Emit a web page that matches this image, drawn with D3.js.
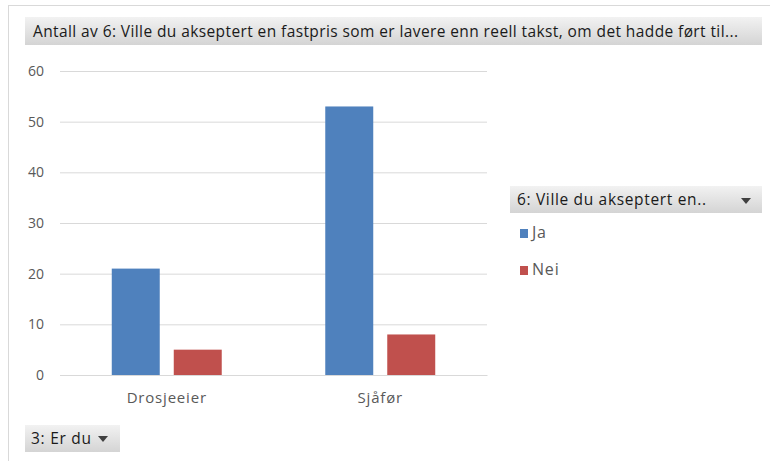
<!DOCTYPE html>
<html>
<head>
<meta charset="utf-8">
<script src="https://cdn.jsdelivr.net/npm/d3@7"></script>
<style>
  body { margin: 0; background: #fff; }
  svg { display: block; font-family: "Open Sans", "DejaVu Sans", sans-serif; }
</style>
</head>
<body>
<svg id="chart"></svg>
<script>
const categories = ['Drosjeeier', 'Sjåfør'];
const seriesNames = ['Ja', 'Nei'];
const jaValues = [21, 53];
const neiValues = [5, 8];
const yTicks = [0, 10, 20, 30, 40, 50, 60];
const titleText = 'Antall av 6: Ville  du akseptert en fastpris som er lavere enn reell takst, om det hadde ført til...';
const legendTitle = '6: Ville  du akseptert en..';
const axisButton = '3: Er du';

const width = 770;
const height = 461;
const colors = d3.scaleOrdinal().domain(seriesNames).range(['#4f81bd', '#c0504d']);

const svg = d3.select('#chart')
    .attr('width', width)
    .attr('height', height)
    .attr('viewBox', [0, 0, width, height]);

const defs = svg.append('defs');
const grad = defs.append('linearGradient')
    .attr('id', 'btn')
    .attr('x1', 0).attr('y1', 0).attr('x2', 0).attr('y2', 1);
grad.append('stop').attr('offset', '0%').attr('stop-color', '#f2f2f2');
grad.append('stop').attr('offset', '100%').attr('stop-color', '#d4d4d4');

// outer frame
svg.append('rect')
    .attr('x', 8.5).attr('y', 5.5)
    .attr('width', 780).attr('height', 470)
    .attr('fill', '#fff')
    .attr('stroke', '#d9d9d9');

// title button
svg.append('rect')
    .attr('x', 25).attr('y', 17)
    .attr('width', 737).attr('height', 28)
    .attr('fill', 'url(#btn)');
svg.append('text')
    .attr('x', 33).attr('y', 37)
    .attr('font-size', 15.5)
    .attr('fill', '#1a1a1a')
    .attr('textLength', 705)
    .text(titleText);

const plotLeft = 60;
const plotRight = 487;
const plotTop = 71;
const plotBottom = 375;

const x0 = d3.scaleBand().domain(categories).range([plotLeft, plotRight]).paddingInner(0).paddingOuter(0);
const x1 = d3.scaleBand().domain(seriesNames).range([0, x0.bandwidth()]).paddingInner(0.226).paddingOuter(0.835);
const y = d3.scaleLinear().domain([0, 60]).range([plotBottom, plotTop]);

// gridlines
const yAxis = d3.axisLeft(y).tickValues(yTicks).tickSize(-(plotRight - plotLeft)).tickPadding(16);
const gy = svg.append('g')
    .attr('transform', `translate(${plotLeft},0)`)
    .call(yAxis);
gy.select('.domain').remove();
gy.selectAll('.tick line').attr('stroke', '#d9d9d9').attr('stroke-width', 1);
gy.selectAll('.tick text')
    .attr('fill', '#595959')
    .attr('font-size', 14)
    .attr('font-family', '"Open Sans", sans-serif');

const rows = categories.map((c, i) => ({category: c, values: [
  {name: 'Ja', value: jaValues[i]},
  {name: 'Nei', value: neiValues[i]},
]}));

const groups = svg.append('g')
    .selectAll('g')
    .data(rows)
    .join('g')
    .attr('transform', (d) => `translate(${x0(d.category)},0)`);

groups.selectAll('rect')
    .data((d) => d.values)
    .join('rect')
    .attr('x', (d) => x1(d.name))
    .attr('width', x1.bandwidth())
    .attr('y', (d) => y(d.value))
    .attr('height', (d) => y(0) - y(d.value))
    .attr('fill', (d) => colors(d.name));

// x axis
const xAxis = d3.axisBottom(x0).tickSize(0).tickPadding(17);
const gx = svg.append('g')
    .attr('transform', `translate(0,${plotBottom})`)
    .call(xAxis);
gx.select('.domain').attr('stroke', '#d9d9d9');
gx.selectAll('.tick text')
    .attr('fill', '#595959')
    .attr('font-size', 15)
    .attr('letter-spacing', 0.8)
    .attr('font-family', '"Open Sans", sans-serif');

// legend
svg.append('rect')
    .attr('x', 510).attr('y', 186)
    .attr('width', 252).attr('height', 27)
    .attr('fill', 'url(#btn)');
svg.append('text')
    .attr('x', 517).attr('y', 205)
    .attr('font-size', 15.5)
    .attr('fill', '#1a1a1a')
    .attr('textLength', 189)
    .text(legendTitle);
svg.append('path')
    .attr('d', 'M741,198 L751,198 L746,204 Z')
    .attr('fill', '#404040');

const legend = svg.append('g')
    .selectAll('g')
    .data(seriesNames)
    .join('g')
    .attr('transform', (d, i) => `translate(520,${228 + i * 37})`);
legend.append('rect')
    .attr('width', 8).attr('height', 9)
    .attr('y', 1)
    .attr('fill', (d) => colors(d));
legend.append('text')
    .attr('x', 12).attr('y', 10)
    .attr('font-size', 16)
    .attr('letter-spacing', 0.8)
    .attr('fill', '#595959')
    .text((d) => d);

// axis field button
svg.append('rect')
    .attr('x', 25).attr('y', 425)
    .attr('width', 95).attr('height', 27)
    .attr('fill', 'url(#btn)');
svg.append('text')
    .attr('x', 31).attr('y', 444)
    .attr('font-size', 15.5)
    .attr('fill', '#1a1a1a')
    .attr('textLength', 60)
    .text(axisButton);
svg.append('path')
    .attr('d', 'M98,436 L108,436 L103,442 Z')
    .attr('fill', '#404040');
</script>
</body>
</html>
